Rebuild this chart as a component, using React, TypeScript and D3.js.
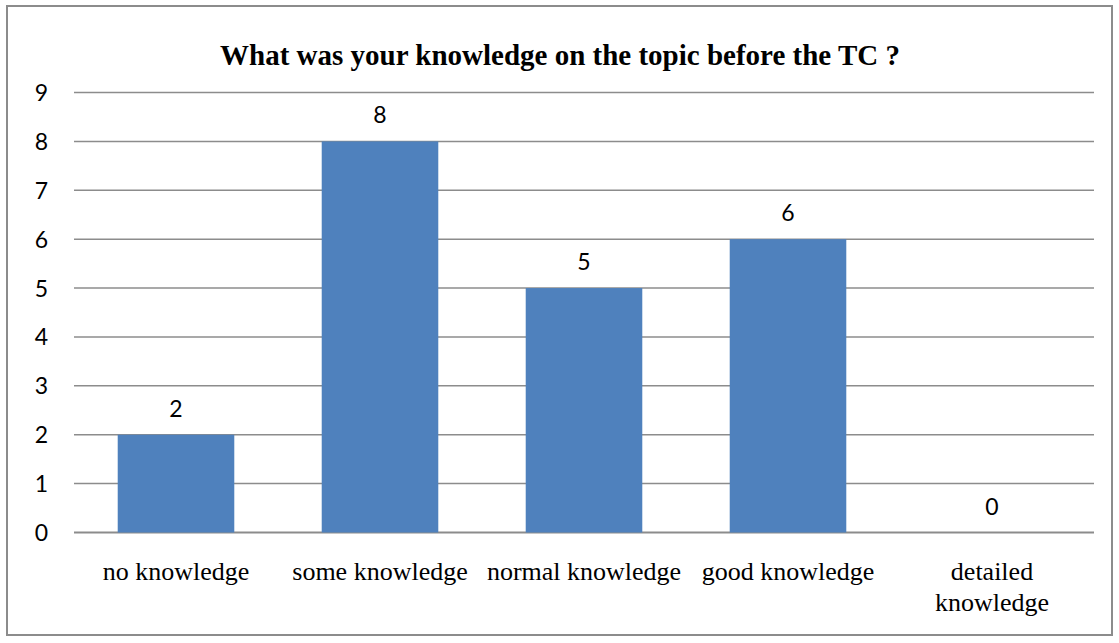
import React, { useEffect, useRef } from "react";
import * as d3 from "d3";

const categories = [
  "no knowledge",
  "some knowledge",
  "normal knowledge",
  "good knowledge",
  "detailed knowledge",
];
const counts = [2, 8, 5, 6, 0];
const yTicks = [0, 1, 2, 3, 4, 5, 6, 7, 8, 9];
const title = "What was your knowledge on the topic before the TC ?";

const W = 1119;
const H = 643;

const drawChart = (el: SVGSVGElement) => {
  const svg = d3.select(el);
  svg.selectAll("*").remove();

  const left = 74;
  const right = 1094;
  const top = 92.5;
  const bottom = 532.5;
  const serif = "'Liberation Serif', 'Times New Roman', serif";
  const sans = "Lato, 'Open Sans', sans-serif";

  // outer frame
  svg
    .append("rect")
    .attr("x", 7)
    .attr("y", 6)
    .attr("width", 1105)
    .attr("height", 629)
    .attr("fill", "#fff")
    .attr("stroke", "#8c8c8c")
    .attr("stroke-width", 2);

  svg
    .append("text")
    .attr("x", 560)
    .attr("y", 65)
    .attr("text-anchor", "middle")
    .attr("font-family", serif)
    .attr("font-weight", "bold")
    .attr("font-size", 29)
    .attr("fill", "#000")
    .text(title);

  const x = d3.scaleBand().domain(categories).range([left, right]);
  const y = d3.scaleLinear().domain([0, 9]).range([bottom, top]);
  const barW = x.bandwidth() / 1.75;

  // gridlines
  svg
    .append("g")
    .selectAll("line")
    .data(yTicks)
    .enter()
    .append("line")
    .attr("x1", left)
    .attr("x2", right)
    .attr("y1", (d) => y(d))
    .attr("y2", (d) => y(d))
    .attr("stroke", "#8c8c8c")
    .attr("stroke-width", (d) => (d === 0 ? 2 : 1.5));

  // y labels
  svg
    .append("g")
    .selectAll("text")
    .data(yTicks)
    .enter()
    .append("text")
    .attr("x", 48)
    .attr("y", (d) => y(d) + 8.5)
    .attr("text-anchor", "end")
    .attr("font-family", sans)
    .attr("font-size", 23)
    .attr("fill", "#000")
    .text((d) => d);

  // bars
  svg
    .append("g")
    .selectAll("rect")
    .data(counts)
    .enter()
    .append("rect")
    .attr("x", (d, i) => (x(categories[i]) as number) + (x.bandwidth() - barW) / 2)
    .attr("y", (d) => y(d))
    .attr("width", barW)
    .attr("height", (d) => bottom - y(d))
    .attr("fill", "#4f81bd");

  // value labels
  svg
    .append("g")
    .selectAll("text")
    .data(counts)
    .enter()
    .append("text")
    .attr("x", (d, i) => (x(categories[i]) as number) + x.bandwidth() / 2)
    .attr("y", (d) => y(d) - 18)
    .attr("text-anchor", "middle")
    .attr("font-family", sans)
    .attr("font-size", 23)
    .attr("fill", "#000")
    .text((d) => d);

  // category labels, wrapping the long one
  const cat = svg
    .append("g")
    .selectAll("text")
    .data(categories)
    .enter()
    .append("text")
    .attr("x", (d) => (x(d) as number) + x.bandwidth() / 2)
    .attr("y", 580)
    .attr("text-anchor", "middle")
    .attr("font-family", serif)
    .attr("font-size", 26)
    .attr("fill", "#000");

  cat.each(function (d) {
    const t = d3.select(this);
    const cx = (x(d) as number) + x.bandwidth() / 2;
    const lines = d === "detailed knowledge" ? ["detailed", "knowledge"] : [d];
    lines.forEach((ln, k) => {
      t.append("tspan")
        .attr("x", cx)
        .attr("dy", k === 0 ? 0 : 31)
        .text(ln);
    });
  });
};

const App = () => {
  const ref = useRef<SVGSVGElement>(null);
  useEffect(() => {
    if (ref.current) drawChart(ref.current);
  });
  return (
    <svg
      ref={ref}
      width={W}
      height={H}
      style={{ position: "absolute", left: 0, top: 0, display: "block" }}
    />
  );
};

export default App;
